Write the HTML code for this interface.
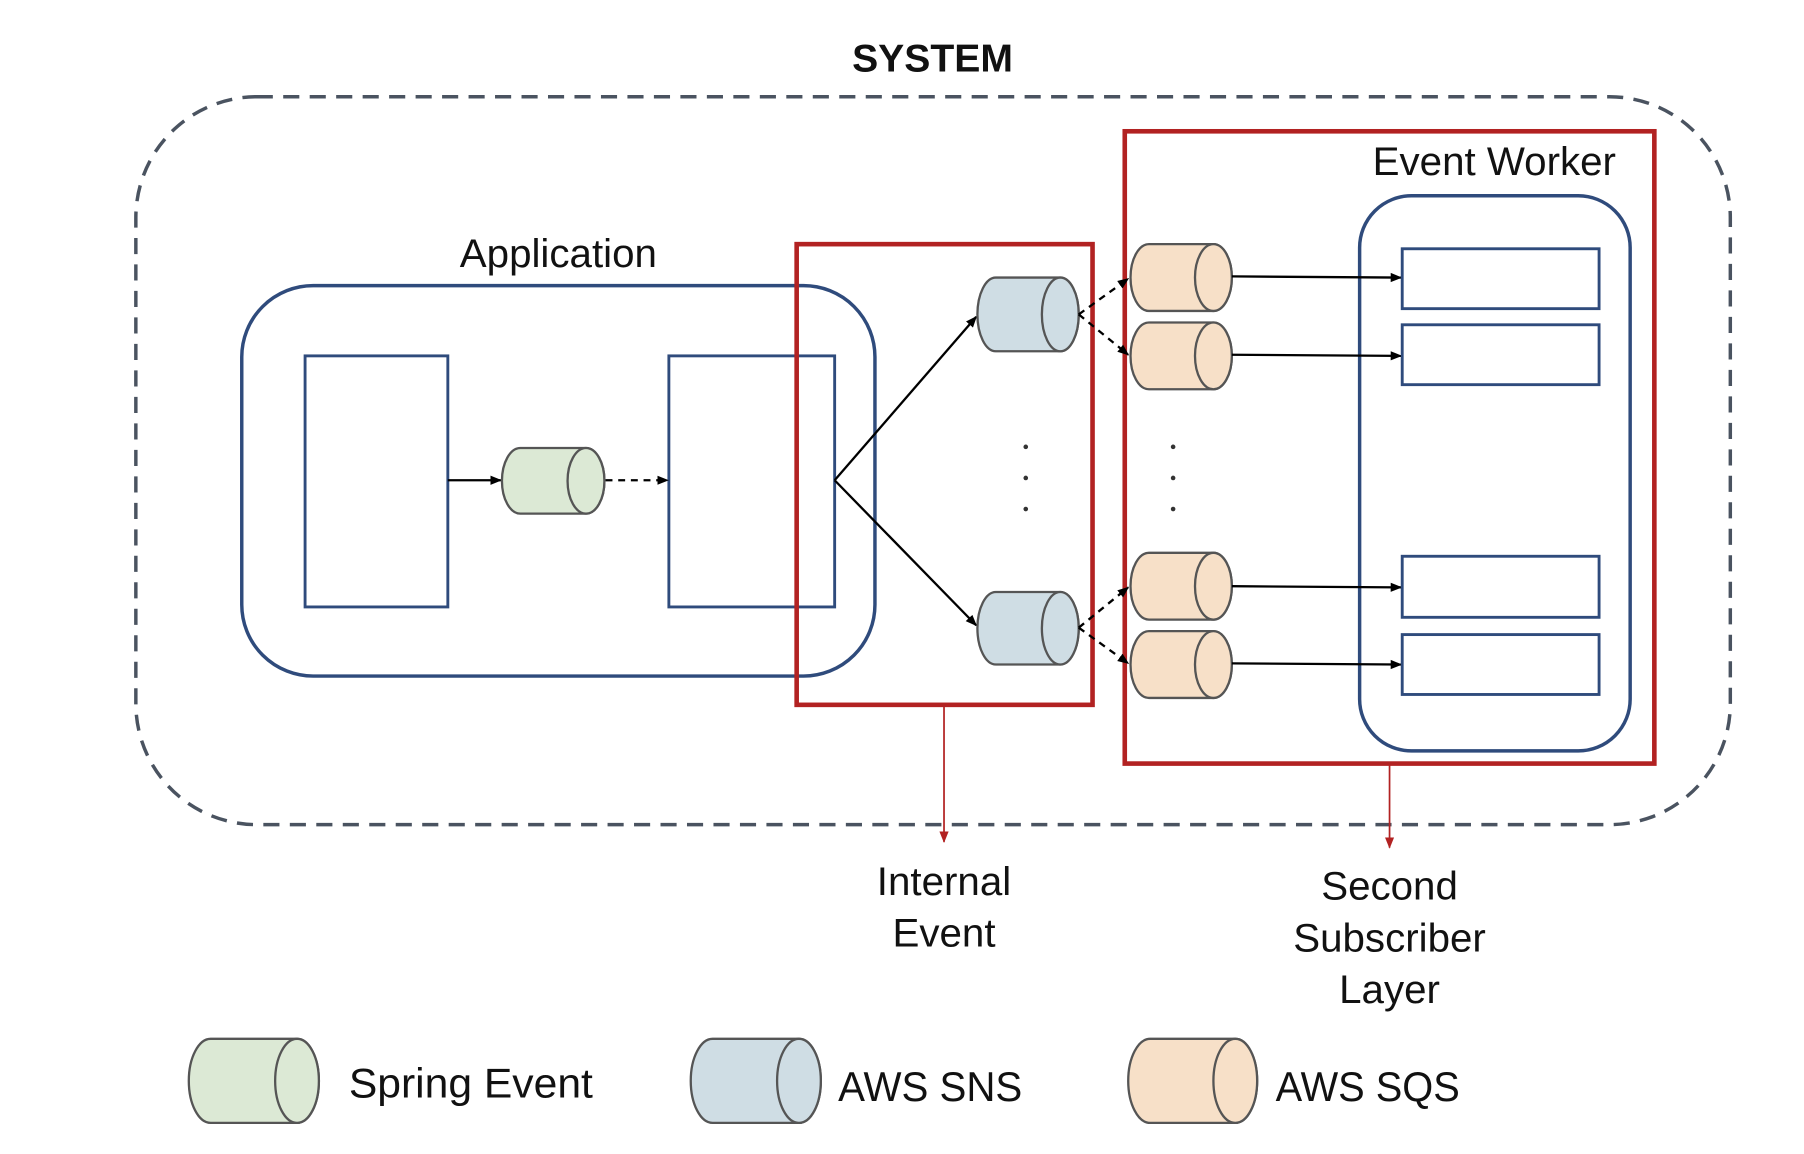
<!DOCTYPE html>
<html><head><meta charset="utf-8"><style>
html,body{margin:0;padding:0;background:#fff;}
svg{display:block;}
text{font-family:"Liberation Sans","Noto Sans CJK KR",sans-serif;fill:#111;}
</style></head><body>
<svg width="1804" height="1154" viewBox="0 0 1567 1002" preserveAspectRatio="none" xmlns="http://www.w3.org/2000/svg">
<defs>
<marker id="ab" markerWidth="10" markerHeight="10" refX="9" refY="5" orient="auto" markerUnits="userSpaceOnUse"><path d="M0,1 L10,5 L0,9 Z" fill="#000"/></marker>
<marker id="ar" markerWidth="10" markerHeight="10" refX="9" refY="5" orient="auto" markerUnits="userSpaceOnUse"><path d="M0,1 L10,5 L0,9 Z" fill="#b22222"/></marker>
</defs>
<text x="810" y="62" text-anchor="middle" font-size="34" font-weight="bold">SYSTEM</text>
<rect x="118" y="84" width="1385" height="632" rx="105" fill="none" stroke="#4a5360" stroke-width="3" stroke-dasharray="14,9"/>
<text x="485" y="232" text-anchor="middle" font-size="35">Application</text>
<rect x="210" y="248" width="550" height="339" rx="62" fill="none" stroke="#2f4b7c" stroke-width="3"/>
<rect x="265" y="309" width="124" height="218" fill="#fff" stroke="#2f4b7c" stroke-width="2.5"/>
<rect x="581" y="309" width="144" height="218" fill="#fff" stroke="#2f4b7c" stroke-width="2.5"/>
<line x1="389" y1="417" x2="435" y2="417" stroke="#000" stroke-width="2" marker-end="url(#ab)"/>
<line x1="526" y1="417" x2="580" y2="417" stroke="#000" stroke-width="2" stroke-dasharray="6,5" marker-end="url(#ab)"/>
<g stroke="#555" stroke-width="2">
<path d="M452,389 L509,389 A16,28.5 0 0 1 509,446 L452,446 A16,28.5 0 0 1 452,389 Z" fill="#dce9d5"/><ellipse cx="509" cy="417.5" rx="16" ry="28.5" fill="#dce9d5"/>
</g>
<rect x="692" y="212" width="257" height="400" fill="none" stroke="#b22222" stroke-width="4"/>
<line x1="725" y1="417" x2="848" y2="275" stroke="#000" stroke-width="2" marker-end="url(#ab)"/>
<line x1="725" y1="417" x2="848" y2="543" stroke="#000" stroke-width="2" marker-end="url(#ab)"/>
<g stroke="#555" stroke-width="2" fill="#cfdde4">
<path d="M865,241 L921,241 A16,32 0 0 1 921,305 L865,305 A16,32 0 0 1 865,241 Z"/><ellipse cx="921" cy="273" rx="16" ry="32"/>
<path d="M865,514 L921,514 A16,31.5 0 0 1 921,577 L865,577 A16,31.5 0 0 1 865,514 Z"/><ellipse cx="921" cy="545.5" rx="16" ry="31.5"/>
</g>
<g fill="#333"><circle cx="891" cy="388" r="2"/><circle cx="891" cy="415" r="2"/><circle cx="891" cy="442" r="2"/>
<circle cx="1019" cy="388" r="2"/><circle cx="1019" cy="415" r="2"/><circle cx="1019" cy="442" r="2"/></g>
<rect x="977" y="114" width="460" height="549" fill="none" stroke="#b22222" stroke-width="4"/>
<text x="1298" y="152" text-anchor="middle" font-size="35">Event Worker</text>
<rect x="1181" y="170" width="235" height="482" rx="45" fill="none" stroke="#2f4b7c" stroke-width="3"/>
<g stroke="#000" stroke-width="2" stroke-dasharray="6,5">
<line x1="937" y1="273" x2="980" y2="242" marker-end="url(#ab)"/>
<line x1="937" y1="273" x2="980" y2="308" marker-end="url(#ab)"/>
<line x1="937" y1="545" x2="980" y2="510" marker-end="url(#ab)"/>
<line x1="937" y1="545" x2="980" y2="576" marker-end="url(#ab)"/>
</g>
<g stroke="#555" stroke-width="2" fill="#f7e0c8">
<path d="M998,212 L1054,212 A16,29 0 0 1 1054,270 L998,270 A16,29 0 0 1 998,212 Z"/><ellipse cx="1054" cy="241" rx="16" ry="29"/>
<path d="M998,280 L1054,280 A16,29 0 0 1 1054,338 L998,338 A16,29 0 0 1 998,280 Z"/><ellipse cx="1054" cy="309" rx="16" ry="29"/>
<path d="M998,480 L1054,480 A16,29 0 0 1 1054,538 L998,538 A16,29 0 0 1 998,480 Z"/><ellipse cx="1054" cy="509" rx="16" ry="29"/>
<path d="M998,548 L1054,548 A16,29 0 0 1 1054,606 L998,606 A16,29 0 0 1 998,548 Z"/><ellipse cx="1054" cy="577" rx="16" ry="29"/>
</g>
<g stroke="#000" stroke-width="2">
<line x1="1070" y1="240" x2="1217" y2="241" marker-end="url(#ab)"/>
<line x1="1070" y1="308" x2="1217" y2="309" marker-end="url(#ab)"/>
<line x1="1070" y1="509" x2="1217" y2="510" marker-end="url(#ab)"/>
<line x1="1070" y1="576" x2="1217" y2="577" marker-end="url(#ab)"/>
</g>
<g fill="#fff" stroke="#2f4b7c" stroke-width="2.5">
<rect x="1218" y="216" width="171" height="52"/><rect x="1218" y="282" width="171" height="52"/>
<rect x="1218" y="483" width="171" height="53"/><rect x="1218" y="551" width="171" height="52"/>
</g>
<line x1="820" y1="612" x2="820" y2="731" stroke="#b22222" stroke-width="1.5" marker-end="url(#ar)"/>
<line x1="1207" y1="663" x2="1207" y2="736" stroke="#b22222" stroke-width="1.5" marker-end="url(#ar)"/>
<g font-size="35" text-anchor="middle">
<text x="820" y="777">Internal</text><text x="820" y="822">Event</text>
<text x="1207" y="781">Second</text><text x="1207" y="826">Subscriber</text><text x="1207" y="871">Layer</text>
</g>
<g stroke="#555" stroke-width="2">
<path d="M183,902 L258,902 A19,36.5 0 0 1 258,975 L183,975 A19,36.5 0 0 1 183,902 Z" fill="#dce9d5"/><ellipse cx="258" cy="938.5" rx="19" ry="36.5" fill="#dce9d5"/>
<path d="M619,902 L694,902 A19,36.5 0 0 1 694,975 L619,975 A19,36.5 0 0 1 619,902 Z" fill="#cfdde4"/><ellipse cx="694" cy="938.5" rx="19" ry="36.5" fill="#cfdde4"/>
<path d="M999,902 L1073,902 A19,36.5 0 0 1 1073,975 L999,975 A19,36.5 0 0 1 999,902 Z" fill="#f7e0c8"/><ellipse cx="1073" cy="938.5" rx="19" ry="36.5" fill="#f7e0c8"/>
</g>
<g font-size="36">
<text x="303" y="953" textLength="212" lengthAdjust="spacingAndGlyphs">Spring Event</text>
<text x="728" y="956" textLength="160" lengthAdjust="spacingAndGlyphs">AWS SNS</text>
<text x="1108" y="956" textLength="160" lengthAdjust="spacingAndGlyphs">AWS SQS</text>
</g>
</svg>
</body></html>
